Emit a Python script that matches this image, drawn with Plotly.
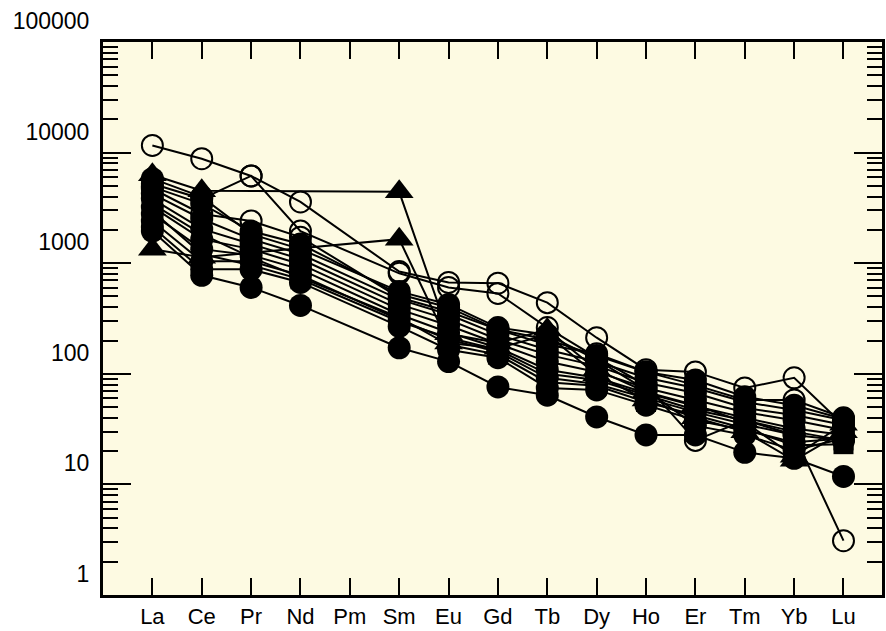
import plotly.graph_objects as go

elements = ["La", "Ce", "Pr", "Nd", "Pm", "Sm", "Eu", "Gd", "Tb", "Dy", "Ho", "Er", "Tm", "Yb", "Lu"]
y_tick_vals = [1, 10, 100, 1000, 10000, 100000]
y_tick_text = ["1", "10", "100", "1000", "10000", "100000"]

# open-circle samples
open_1 = [11600, 8800, 6150, 3580, None, 840, 670, 660, 440, 212, 109, 104, 74.5, 92, 34.4]
open_2 = [5230, 3820, 6150, 1950, None, 810, 604, 533, 262, 140, 79, 25, 38, 28, 3.1]
open_3 = [4710, 2790, 2410, 1720, None, 490, 366, 251, 183, 152, 104, 79, 58, 58, 40]

# filled-circle samples
fill_1 = [1950, 778, 604, 415, None, 172, 129, 76, 64, 40.7, 28, 28, 19.5, 17.2, 11.8]
fill_2 = [4900, 3440, 1950, 1490, None, 523, 398, 251, 204, 146, 104, 88, 62, 52, 39]
fill_3 = [4240, 2510, 1650, 1210, None, 471, 344, 226, 165, 129, 92, 74.5, 55.6, 47, 38]
fill_4 = [3820, 2040, 1490, 1090, None, 424, 309, 204, 149, 118, 83, 67, 49, 42.4, 34.4]
fill_5 = [3230, 1650, 1340, 980, None, 382, 273, 187, 129, 104, 74.5, 58, 45, 38, 31]
fill_6 = [2790, 1340, 1180, 880, None, 344, 236, 172, 109, 92, 67, 51, 40, 32, 28]
fill_7 = [2410, 1040, 1040, 778, None, 309, 204, 158, 92, 81, 60, 45, 35, 28, 25]
fill_8 = [2120, 880, 880, 670, None, 268, 165, 140, 74.5, 71.5, 52, 38, 31, 24, 26]
fill_9 = [5810, 3980, 1830, 1340, None, 556, 424, 262, 226, 134, 71.5, 34, 28, 20.4, 26]

# filled-triangle samples
tri_1 = [6310, 4520, None, None, None, 4420, 230, 190, 251, 109, 68.5, 52, 36.6, 18, 35]
tri_2 = [1340, 1130, None, None, None, 1650, 190, 170, 226, 98, 58, 40, 30, 16.5, 30]

# filled-square samples
sq_1 = [3440, 1830, 1130, 745, None, 323, 183, 149, 84, 78, 55.6, 42.4, 32, 22.6, 23.1]
sq_2 = [2970, 1210, 960, 715, None, 297, 212, 165, 100, 88, 64, 47, 38, 30, 25]

open_series = [open_1, open_2, open_3]
circle_series = [fill_1, fill_2, fill_3, fill_4, fill_5, fill_6, fill_7, fill_8, fill_9]
triangle_series = [tri_1, tri_2]
square_series = [sq_1, sq_2]

fig = go.Figure()

line_style = dict(color="black", width=2)

for s in open_series:
    fig.add_trace(go.Scatter(
        x=elements, y=s, mode="lines+markers", connectgaps=True,
        line=line_style,
        marker=dict(symbol="circle-open", size=21, color="black", line=dict(width=2, color="black")),
        showlegend=False, cliponaxis=False))

for s in circle_series:
    fig.add_trace(go.Scatter(
        x=elements, y=s, mode="lines+markers", connectgaps=True,
        line=line_style,
        marker=dict(symbol="circle", size=23, color="black"),
        showlegend=False, cliponaxis=False))

for s in square_series:
    fig.add_trace(go.Scatter(
        x=elements, y=s, mode="lines+markers", connectgaps=True,
        line=line_style,
        marker=dict(symbol="square", size=20, color="black"),
        showlegend=False, cliponaxis=False))

for s in triangle_series:
    fig.add_trace(go.Scatter(
        x=elements, y=s, mode="lines+markers", connectgaps=True,
        line=line_style,
        marker=dict(symbol="triangle-up", size=25, color="black"),
        showlegend=False, cliponaxis=False))

font_main = "Arial, 'Liberation Sans', Helvetica, sans-serif"

fig.update_layout(
    width=886, height=631,
    margin=dict(l=103, r=1, t=42, b=36),
    paper_bgcolor="white",
    plot_bgcolor="#FDFAE2",
    font=dict(family=font_main, size=22, color="black"),
    xaxis=dict(
        type="category",
        categoryorder="array", categoryarray=elements,
        range=[-1.0, 14.78],
        showgrid=False, zeroline=False,
        showline=True, linecolor="black", linewidth=3, mirror="ticks",
        ticks="inside", ticklen=17, tickwidth=2, tickcolor="black",
        tickfont=dict(family=font_main, size=22, color="black"),
    ),
    yaxis=dict(
        type="log",
        range=[0, 5],
        tickvals=y_tick_vals, ticktext=y_tick_text,
        showgrid=False, zeroline=False,
        showline=True, linecolor="black", linewidth=3, mirror="ticks",
        ticks="inside", ticklen=28, tickwidth=2, tickcolor="black",
        ticklabelshift=-21, ticklabelstandoff=6,
        tickfont=dict(family=font_main, size=23, color="black"),
        minor=dict(ticks="inside", ticklen=15, tickwidth=2, tickcolor="black",
                   dtick="D1", showgrid=False),
    ),
)

fig.write_html(
    "out.html",
    config={"displayModeBar": False},
    post_script="document.body.style.margin='0px';document.body.style.overflow='hidden';",
)
